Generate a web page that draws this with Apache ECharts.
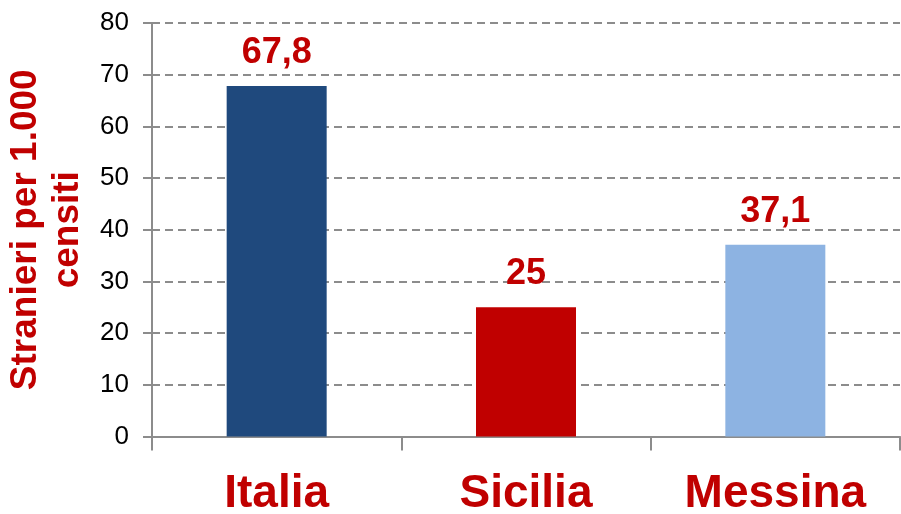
<!DOCTYPE html>
<html>
<head>
<meta charset="utf-8">
<script src="https://cdn.jsdelivr.net/npm/echarts@6/dist/echarts.min.js"></script>
<style>
html,body{margin:0;padding:0;background:#fff;}
#c{width:901px;height:514px;}
</style>
</head>
<body>
<div id="c"></div>
<script>
const categories = ['Italia', 'Sicilia', 'Messina'];
const values = [67.8, 25, 37.1];
const yTicks = [0, 10, 20, 30, 40, 50, 60, 70, 80];
const yTitle = 'Stranieri per 1.000\ncensiti';

const barColors = ['#1F497D', '#C00000', '#8DB3E2'];
const red = '#C00000';
const font = 'Liberation Sans, Arial, sans-serif';

const chart = echarts.init(document.getElementById('c'), null, {renderer: 'canvas'});
chart.setOption({
  animation: false,
  backgroundColor: '#fff',
  grid: {left: 152, right: 1, top: 23, bottom: 77.5, containLabel: false, outerBoundsMode: 'none'},
  xAxis: {
    type: 'category',
    data: categories,
    axisLine: {show: true, lineStyle: {color: '#8c8c8c', width: 2}},
    axisTick: {show: true, length: 14, interval: 0, alignWithLabel: false, lineStyle: {color: '#8c8c8c', width: 2}},
    axisLabel: {color: red, fontFamily: font, fontWeight: 'bold', fontSize: 46, margin: 35, interval: 0},
    splitLine: {show: false}
  },
  yAxis: {
    type: 'value',
    min: yTicks[0],
    max: yTicks[yTicks.length - 1],
    interval: 10,
    name: yTitle,
    nameLocation: 'middle',
    nameGap: 60,
    nameRotate: 90,
    nameTextStyle: {color: red, fontFamily: font, fontWeight: 'bold', fontSize: 37, lineHeight: 42, align: 'center'},
    axisLine: {show: true, lineStyle: {color: '#8c8c8c', width: 2}},
    axisTick: {show: true, length: 9, lineStyle: {color: '#8c8c8c', width: 2}},
    axisLabel: {color: '#000', fontFamily: font, fontSize: 26, margin: 23},
    splitLine: {show: true, lineStyle: {color: '#8c8c8c', width: 2, type: [8, 5]}}
  },
  series: [{
    type: 'bar',
    data: values.map((v, i) => ({value: v, itemStyle: {color: barColors[i]}})),
    barWidth: 100,
    label: {
      show: true,
      position: 'top',
      distance: 15,
      color: red,
      fontFamily: font,
      fontWeight: 'bold',
      fontSize: 36,
      formatter: p => String(p.value).replace('.', ',')
    }
  }]
});
</script>
</body>
</html>
